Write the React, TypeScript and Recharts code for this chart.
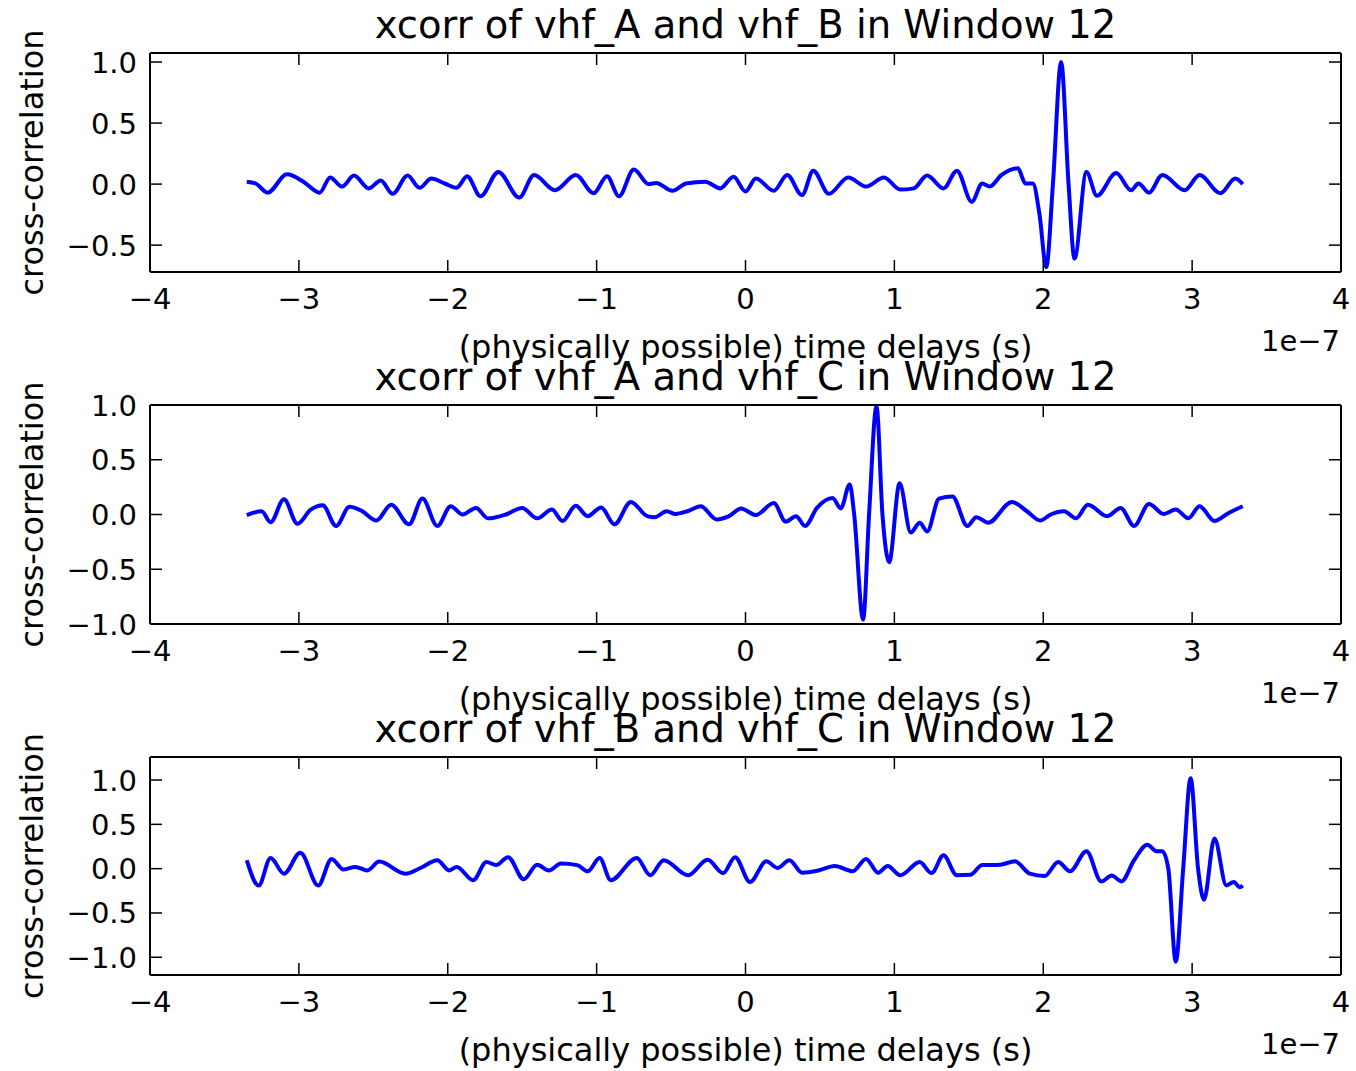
import React from 'react';
import { LineChart, Line, XAxis, YAxis } from 'recharts';

// time delays are in units of 1e-7 s
const X_TICKS = [-4, -3, -2, -1, 0, 1, 2, 3, 4];
const Y_TICKS_AB = [-0.5, 0, 0.5, 1];
const Y_TICKS_FULL = [-1, -0.5, 0, 0.5, 1];

const TITLES = [
  'xcorr of vhf_A and vhf_B in Window 12',
  'xcorr of vhf_A and vhf_C in Window 12',
  'xcorr of vhf_B and vhf_C in Window 12',
];
const X_LABEL = '(physically possible) time delays (s)';
const Y_LABEL = 'cross-correlation';
const OFFSET_TEXT = '1e\u22127';

const XCORR_AB: [number, number][] = [
  [-3.35, 0.02], [-3.29, 0.005], [-3.21, -0.07], [-3.08, 0.08], [-2.97, 0.02], [-2.86, -0.07],
  [-2.79, 0.055], [-2.71, -0.02], [-2.63, 0.07], [-2.53, -0.035], [-2.45, 0.03], [-2.37, -0.08],
  [-2.27, 0.07], [-2.19, -0.03], [-2.11, 0.045], [-2.02, 0.005], [-1.94, -0.03], [-1.87, 0.065],
  [-1.78, -0.1], [-1.66, 0.1], [-1.52, -0.11], [-1.42, 0.075], [-1.28, -0.05], [-1.14, 0.075],
  [-1.02, -0.075], [-0.93, 0.065], [-0.85, -0.1], [-0.75, 0.12], [-0.65, 0.0], [-0.6, 0.01],
  [-0.49, -0.055], [-0.4, 0.005], [-0.27, 0.02], [-0.17, -0.035], [-0.08, 0.06], [0.0, -0.06],
  [0.07, 0.045], [0.19, -0.055], [0.28, 0.075], [0.38, -0.09], [0.455, 0.11], [0.56, -0.08],
  [0.69, 0.055], [0.81, -0.02], [0.93, 0.055], [1.04, -0.045], [1.13, -0.035], [1.22, 0.07],
  [1.33, -0.035], [1.42, 0.11], [1.52, -0.145], [1.59, 0.005], [1.64, -0.02], [1.72, 0.075],
  [1.83, 0.13], [1.88, 0.005], [1.93, 0.005], [1.975, -0.25], [2.02, -0.68], [2.065, 0.0],
  [2.12, 1.0], [2.17, 0.0], [2.21, -0.61], [2.29, 0.1], [2.36, -0.095], [2.49, 0.09],
  [2.59, -0.05], [2.64, 0.005], [2.71, -0.07], [2.8, 0.075], [2.95, -0.05], [3.05, 0.075],
  [3.19, -0.075], [3.29, 0.045], [3.34, 0.0],
];

const XCORR_AC: [number, number][] = [
  [-3.35, -0.005], [-3.25, 0.03], [-3.19, -0.07], [-3.1, 0.14], [-3.01, -0.085], [-2.92, 0.045],
  [-2.84, 0.085], [-2.75, -0.105], [-2.66, 0.07], [-2.58, 0.035], [-2.48, -0.055], [-2.38, 0.09],
  [-2.26, -0.09], [-2.17, 0.145], [-2.07, -0.105], [-1.98, 0.075], [-1.9, 0.0], [-1.81, 0.06],
  [-1.73, -0.035], [-1.61, 0.0], [-1.5, 0.06], [-1.4, -0.035], [-1.3, 0.045], [-1.23, -0.06],
  [-1.14, 0.08], [-1.06, -0.015], [-0.97, 0.065], [-0.88, -0.09], [-0.77, 0.115], [-0.66, -0.015],
  [-0.61, -0.025], [-0.53, 0.03], [-0.47, 0.005], [-0.39, 0.03], [-0.3, 0.075], [-0.195, -0.045],
  [-0.11, -0.015], [-0.03, 0.055], [0.07, -0.005], [0.19, 0.105], [0.27, -0.065], [0.34, -0.015],
  [0.4, -0.105], [0.48, 0.06], [0.585, 0.15], [0.64, 0.055], [0.7, 0.275], [0.73, 0.0],
  [0.79, -0.96], [0.83, 0.0], [0.88, 0.99], [0.92, 0.0], [0.965, -0.435], [1.035, 0.285],
  [1.11, -0.165], [1.17, -0.075], [1.22, -0.155], [1.3, 0.145], [1.39, 0.165], [1.49, -0.105],
  [1.55, -0.025], [1.63, -0.075], [1.79, 0.115], [1.89, 0.03], [1.98, -0.055], [2.05, 0.0],
  [2.14, 0.03], [2.22, -0.035], [2.3, 0.09], [2.43, -0.015], [2.52, 0.06], [2.61, -0.105],
  [2.71, 0.095], [2.81, 0.005], [2.89, 0.045], [2.975, -0.035], [3.05, 0.075], [3.15, -0.06],
  [3.24, 0.01], [3.34, 0.075],
];

const XCORR_BC: [number, number][] = [
  [-3.35, 0.095], [-3.27, -0.19], [-3.19, 0.12], [-3.1, -0.057], [-2.99, 0.18], [-2.87, -0.19],
  [-2.78, 0.11], [-2.7, -0.01], [-2.62, 0.02], [-2.54, -0.02], [-2.46, 0.08], [-2.285, -0.057],
  [-2.18, 0.01], [-2.07, 0.095], [-1.99, -0.02], [-1.94, 0.02], [-1.83, -0.13], [-1.74, 0.075],
  [-1.675, 0.04], [-1.595, 0.13], [-1.49, -0.12], [-1.4, 0.045], [-1.32, -0.02], [-1.24, 0.057],
  [-1.13, 0.04], [-1.06, -0.03], [-0.98, 0.12], [-0.905, -0.13], [-0.73, 0.12], [-0.64, -0.075],
  [-0.55, 0.095], [-0.385, -0.075], [-0.255, 0.1], [-0.15, -0.05], [-0.07, 0.13], [0.03, -0.15],
  [0.14, 0.083], [0.215, 0.008], [0.295, 0.095], [0.38, -0.045], [0.49, -0.02], [0.6, 0.03],
  [0.72, -0.03], [0.81, 0.11], [0.89, -0.045], [0.955, 0.03], [1.04, -0.075], [1.17, 0.075],
  [1.25, -0.05], [1.33, 0.15], [1.42, -0.075], [1.51, -0.07], [1.59, 0.04], [1.71, 0.045],
  [1.81, 0.083], [1.91, -0.057], [2.01, -0.083], [2.1, 0.075], [2.18, -0.03], [2.29, 0.197],
  [2.39, -0.144], [2.46, -0.076], [2.525, -0.144], [2.61, 0.095], [2.7, 0.27], [2.76, 0.197],
  [2.8, 0.197], [2.84, 0.0], [2.89, -1.05], [2.94, 0.0], [2.99, 1.02], [3.04, 0.0],
  [3.08, -0.35], [3.15, 0.34], [3.23, -0.19], [3.28, -0.15], [3.32, -0.21], [3.34, -0.19],
];

const FONT = "'DejaVu Sans', sans-serif";
const TICK_LEN = 12;
const FRAME_LEFT = 150;
const FRAME_RIGHT = 1341;

const minus = (v: number, digits: number) =>
  (v < 0 ? '\u2212' : '') + Math.abs(v).toFixed(digits);

const BottomTick = (props: any) => {
  const { x, y, payload } = props;
  return (
    <g>
      <line x1={x} y1={y} x2={x} y2={y - TICK_LEN} stroke="#000" strokeWidth={1.5} />
      <text x={x} y={y + 37} textAnchor="middle" fontSize={29} fontFamily={FONT} fill="#000">
        {minus(payload.value, 0)}
      </text>
    </g>
  );
};

const TopTick = (props: any) => (
  <line x1={props.x} y1={props.y} x2={props.x} y2={props.y + TICK_LEN} stroke="#000" strokeWidth={1.5} />
);

const LeftTick = (props: any) => {
  const { x, y, payload } = props;
  return (
    <g>
      <line x1={x} y1={y} x2={x + TICK_LEN} y2={y} stroke="#000" strokeWidth={1.5} />
      <text x={x - 13} y={y + 10.5} textAnchor="end" fontSize={29} fontFamily={FONT} fill="#000">
        {minus(payload.value, 1)}
      </text>
    </g>
  );
};

const RightTick = (props: any) => (
  <line x1={props.x} y1={props.y} x2={props.x - TICK_LEN} y2={props.y} stroke="#000" strokeWidth={1.5} />
);

interface PanelProps {
  top: number;
  bottom: number;
  series: [number, number][];
  domain: [number, number];
  yTicks: number[];
}

const PAD = 20;
const AXIS_H = 52;

const Panel = ({ top, bottom, series, domain, yTicks }: PanelProps) => {
  const data = series.map(([x, y]) => ({ x, y }));
  const frameH = bottom - top;
  const axisLine = { stroke: '#000', strokeWidth: 2 };
  return (
    <div style={{ position: 'absolute', left: 0, top: top - PAD }}>
      <LineChart
        width={1356}
        height={frameH + PAD + AXIS_H}
        data={data}
        margin={{ top: PAD, right: 1356 - FRAME_RIGHT, bottom: 0, left: 0 }}
      >
        <XAxis
          xAxisId="b"
          dataKey="x"
          type="number"
          domain={[-4, 4]}
          ticks={X_TICKS}
          interval={0}
          allowDataOverflow
          height={AXIS_H}
          tickSize={0}
          tickMargin={0}
          tickLine={false}
          axisLine={axisLine}
          tick={BottomTick}
        />
        <XAxis
          xAxisId="t"
          dataKey="x"
          type="number"
          orientation="top"
          mirror
          domain={[-4, 4]}
          ticks={X_TICKS}
          interval={0}
          allowDataOverflow
          tickSize={0}
          tickMargin={0}
          tickLine={false}
          axisLine={axisLine}
          tick={TopTick}
        />
        <YAxis
          yAxisId="l"
          type="number"
          domain={domain}
          ticks={yTicks}
          interval={0}
          allowDataOverflow
          width={FRAME_LEFT}
          tickSize={0}
          tickMargin={0}
          tickLine={false}
          axisLine={axisLine}
          tick={LeftTick}
        />
        <YAxis
          yAxisId="r"
          type="number"
          orientation="right"
          mirror
          domain={domain}
          ticks={yTicks}
          interval={0}
          allowDataOverflow
          tickSize={0}
          tickMargin={0}
          tickLine={false}
          axisLine={axisLine}
          tick={RightTick}
        />
        <Line
          xAxisId="b"
          yAxisId="l"
          dataKey="y"
          type="monotone"
          stroke="#0000ff"
          strokeWidth={4}
          strokeLinejoin="round"
          dot={false}
          isAnimationActive={false}
        />
      </LineChart>
    </div>
  );
};

const PANELS = [
  { top: 53, bottom: 272, series: XCORR_AB, domain: [-0.72, 1.074] as [number, number], yTicks: Y_TICKS_AB },
  { top: 405, bottom: 624, series: XCORR_AC, domain: [-1, 1] as [number, number], yTicks: Y_TICKS_FULL },
  { top: 757, bottom: 975, series: XCORR_BC, domain: [-1.2, 1.26] as [number, number], yTicks: Y_TICKS_FULL },
];

export default function App() {
  const cx = (FRAME_LEFT + FRAME_RIGHT) / 2;
  return (
    <div style={{ position: 'absolute', left: 0, top: 0, width: 1356, height: 1071, background: '#fff' }}>
      {PANELS.map((p, i) => (
        <Panel key={i} {...p} />
      ))}
      <svg
        width={1356}
        height={1071}
        style={{ position: 'absolute', left: 0, top: 0, pointerEvents: 'none' }}
        fontFamily={FONT}
      >
        {PANELS.map((p, i) => {
          const cy = (p.top + p.bottom) / 2;
          return (
            <g key={i}>
              <text x={cx} y={p.top - 15} textAnchor="middle" fontSize={38.5} fill="#000">
                {TITLES[i]}
              </text>
              <text x={cx} y={p.bottom + 86} textAnchor="middle" fontSize={32} fill="#000">
                {X_LABEL}
              </text>
              <text x={FRAME_RIGHT - 1} y={p.bottom + 79} textAnchor="end" fontSize={29} fill="#000">
                {OFFSET_TEXT}
              </text>
              <text
                x={43}
                y={cy}
                transform={`rotate(-90 43 ${cy})`}
                textAnchor="middle"
                fontSize={32}
                fill="#000"
              >
                {Y_LABEL}
              </text>
            </g>
          );
        })}
      </svg>
    </div>
  );
}
